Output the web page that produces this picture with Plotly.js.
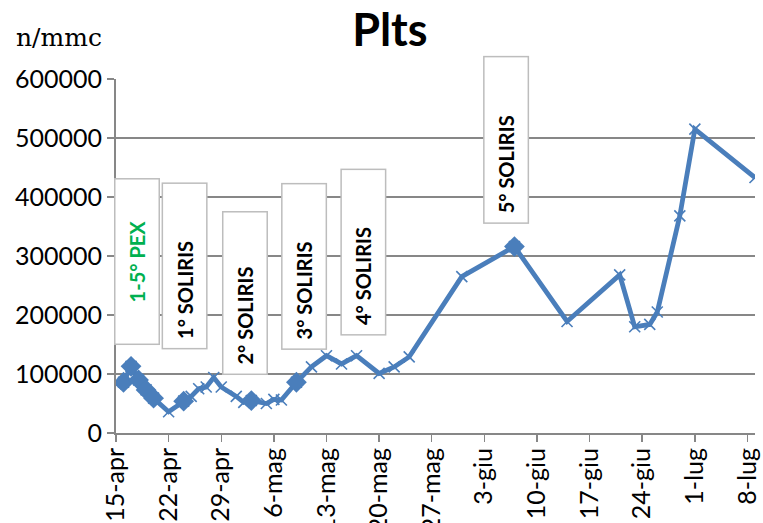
<!DOCTYPE html>
<html>
<head>
<meta charset="utf-8">
<script src="https://cdn.plot.ly/plotly-3.0.1.min.js"></script>
<style>
  html, body { margin: 0; padding: 0; background: #fff; }
  #chart { width: 763px; height: 523px; }
</style>
</head>
<body>
<div id="chart"></div>
<script>
// Platelet counts (n/mmc) by sampling date
const dates = [
  '2013-04-15', '2013-04-16', '2013-04-17', '2013-04-18', '2013-04-19', '2013-04-20',
  '2013-04-22', '2013-04-24', '2013-04-25', '2013-04-26', '2013-04-27', '2013-04-28',
  '2013-04-29', '2013-05-01', '2013-05-02', '2013-05-03', '2013-05-05', '2013-05-06',
  '2013-05-07', '2013-05-09', '2013-05-11', '2013-05-13', '2013-05-15', '2013-05-17',
  '2013-05-20', '2013-05-22', '2013-05-24', '2013-05-31', '2013-06-07', '2013-06-14',
  '2013-06-21', '2013-06-23', '2013-06-25', '2013-06-26', '2013-06-29', '2013-07-01',
  '2013-07-09'
];
const plts = [
  83000, 86000, 113000, 90000, 73000, 59000,
  36000, 54000, 62000, 75000, 78000, 94000,
  78000, 62000, 52000, 55000, 50000, 57000,
  56000, 86000, 112000, 131000, 117000, 131000,
  101000, 112000, 129000, 265000, 316000, 189000,
  268000, 180000, 184000, 205000, 368000, 515000,
  433000
];

// Treatment days (plasma exchange and Soliris doses), highlighted on the curve
const treatmentDates = [
  '2013-04-16', '2013-04-17', '2013-04-18', '2013-04-19', '2013-04-20',
  '2013-04-24', '2013-05-03', '2013-05-09', '2013-06-07'
];
const treatmentValues = treatmentDates.map(d => plts[dates.indexOf(d)]);

// Weekly axis ticks
const tickDates = [
  '2013-04-15', '2013-04-22', '2013-04-29', '2013-05-06', '2013-05-13', '2013-05-20',
  '2013-05-27', '2013-06-03', '2013-06-10', '2013-06-17', '2013-06-24', '2013-07-01',
  '2013-07-08'
];
const tickLabels = [
  '15-apr', '22-apr', '29-apr', '6-mag', '13-mag', '20-mag',
  '27-mag', '3-giu', '10-giu', '17-giu', '24-giu', '1-lug', '8-lug'
];

// Treatment labels
const boxLabels = ['1-5° PEX', '1° SOLIRIS', '2° SOLIRIS', '3° SOLIRIS', '4° SOLIRIS', '5° SOLIRIS'];

const blue = '#4A7EBB';
const grid = '#878787';

const traces = [
  {
    x: dates, y: plts, type: 'scatter', mode: 'lines+markers',
    line: { color: blue, width: 4.8 },
    marker: { symbol: 'x-thin', size: 11, color: blue, line: { color: blue, width: 1.6 } },
    hoverinfo: 'x+y'
  },
  {
    x: treatmentDates, y: treatmentValues, type: 'scatter', mode: 'markers',
    marker: { symbol: 'diamond', size: 16, color: blue, line: { width: 0 } },
    hoverinfo: 'x+y'
  }
];

// Label boxes: [paper x, paper y, box length, text alignment, colour]
const boxSpecs = [
  [0.0329, 0.483, 164, 'center', '#00B050'],
  [0.1072, 0.472, 164, 'left', '#000000'],
  [0.2011, 0.394, 161, 'left', '#000000'],
  [0.2942, 0.472, 164, 'left', '#000000'],
  [0.3873, 0.511, 164, 'left', '#000000'],
  [0.6103, 0.828, 165, 'left', '#000000']
];
const boxPad = 9;

const annotations = boxLabels.map((txt, i) => {
  const s = boxSpecs[i];
  return {
    xref: 'paper', yref: 'paper', x: s[0], y: s[1],
    xanchor: 'center', yanchor: 'middle',
    text: '<b>' + txt + '</b>', textangle: -90,
    showarrow: false, width: s[2] - 2 * boxPad, height: 43 - 2 * boxPad, align: s[3],
    bgcolor: '#ffffff', bordercolor: '#BDBDBD', borderwidth: 1.5, borderpad: boxPad,
    font: { family: 'Lato, sans-serif', size: 20, color: s[4] }
  };
});

annotations.push({
  xref: 'paper', yref: 'paper', x: -0.1596, y: 1.118,
  xanchor: 'left', yanchor: 'middle', showarrow: false,
  text: 'n/mmc',
  font: { family: 'DejaVu Serif, serif', size: 25, color: '#000' }
});

const layout = {
  width: 763, height: 523,
  margin: { l: 116, r: 8, t: 79, b: 90, pad: 0 },
  paper_bgcolor: '#ffffff', plot_bgcolor: '#ffffff',
  showlegend: false,
  title: {
    text: '<b>Plts</b>',
    x: 0.511, xanchor: 'center', xref: 'container',
    y: 0.942, yanchor: 'middle', yref: 'container',
    font: { family: 'Lato, sans-serif', size: 45, color: '#000' }
  },
  xaxis: {
    type: 'date',
    range: ['2013-04-15', '2013-07-09'],
    tickmode: 'array', tickvals: tickDates, ticktext: tickLabels,
    tickangle: -90,
    ticks: 'outside', ticklen: 7, tickwidth: 1.5, tickcolor: grid,
    ticklabelstandoff: -4,
    showline: true, linecolor: grid, linewidth: 2,
    showgrid: false, zeroline: false,
    tickfont: { family: 'Lato, sans-serif', size: 25, color: '#000' },
    automargin: false, fixedrange: true
  },
  yaxis: {
    range: [0, 600000], dtick: 100000, tick0: 0,
    tickformat: 'd',
    ticks: 'outside', ticklen: 7, tickwidth: 1.5, tickcolor: grid,
    showline: true, linecolor: grid, linewidth: 2,
    showgrid: true, gridcolor: grid, gridwidth: 2,
    zeroline: false,
    tickfont: { family: 'Lato, sans-serif', size: 25, color: '#000' },
    automargin: false, fixedrange: true
  },
  annotations: annotations
};

Plotly.newPlot('chart', traces, layout, { displayModeBar: false, staticPlot: true });
</script>
</body>
</html>
